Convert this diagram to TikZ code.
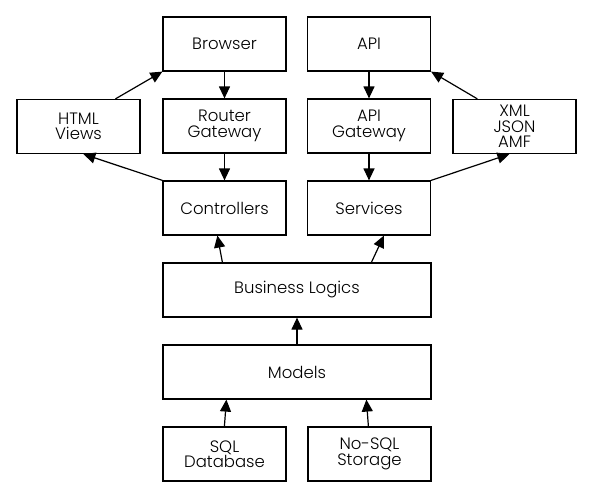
\documentclass[tikz,border=0pt]{standalone}
\usepackage{fontspec}
\setmainfont{Poppins}[UprightFont=* Light]
\usetikzlibrary{arrows.meta,calc}
\begin{document}
\begin{tikzpicture}[x=1pt,y=-1pt,
  box/.style={draw,line width=1.2pt,minimum width=123pt,minimum height=54pt,inner sep=0pt,align=center,
    font=\fontsize{16.5}{15.5}\selectfont},
  wide/.style={box,minimum width=268pt},
  conn/.style={line width=1.2pt,-{Triangle[length=12pt,width=11pt]}}]
\useasboundingbox[fill=white] (0,0) rectangle (592,498);
\node[box] (browser) at (224.5,44) {Browser};
\node[box] (api) at (369,44) {API};
\node[box] (html) at (78.5,126.5) {HTML\\Views};
\node[box] (router) at (224.5,126) {Router\\Gateway};
\node[box] (apigw) at (369,126) {API\\Gateway};
\node[box] (xml) at (514.5,126.5) {XML\\JSON\\AMF};
\node[box] (ctrl) at (224.5,208) {Controllers};
\node[box] (services) at (369,208) {Services};
\node[wide] (bl) at (297,290) {Business Logics};
\node[wide] (models) at (297,372) {Models};
\node[box] (sql) at (224.5,454) {SQL\\Database};
\node[box] (nosql) at (369.5,454) {No-SQL\\Storage};
\draw[conn] ($(html.north west)+(99,0)$) -- (browser.south west);
\draw[conn] (browser) -- (router);
\draw[conn] (router) -- (ctrl);
\draw[conn] (ctrl.north west) -- ($(html.south west)+(67,0)$);
\draw[conn] (api) -- (apigw);
\draw[conn] (apigw) -- (services);
\draw[conn] ($(xml.north west)+(25,0)$) -- (api.south east);
\draw[conn] (services.north east) -- ($(xml.south west)+(57,0)$);
\draw[conn] ($(bl.north west)+(60,0)$) -- ($(ctrl.south west)+(55,0)$);
\draw[conn] ($(bl.north west)+(209,0)$) -- ($(services.south west)+(77,0)$);
\draw[conn] (models) -- (bl);
\draw[conn] ($(sql.north west)+(62,0)$) -- ($(models.south west)+(64,0)$);
\draw[conn] ($(nosql.north west)+(61,0)$) -- ($(models.south west)+(204,0)$);
\end{tikzpicture}
\end{document}
